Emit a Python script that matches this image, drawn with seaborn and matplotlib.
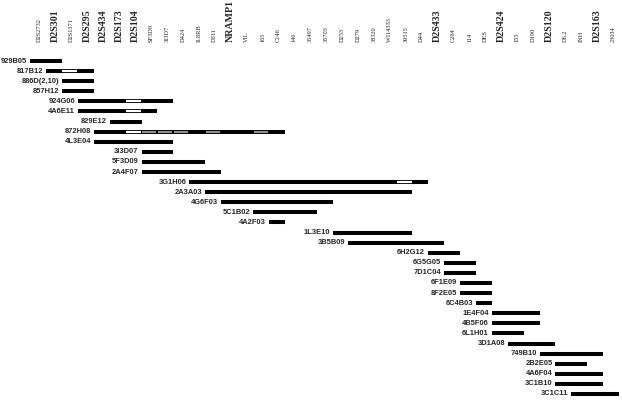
# physical map of clones across chr 2 markers
import pandas as pd
import seaborn as sns
import matplotlib.pyplot as plt

# markers along the top (left to right)
markers = ["D2S2732", "D2S301", "D2S1371", "D2S295", "D2S434", "D2S173", "D2S104",
           "SF3D9", "3I3D7", "D424", "IL8RB", "D311", "NRAMP1", "VIL", "165", "C146",
           "146", "35497", "35703", "D253", "D279", "38320", "WI14333", "39515", "D44",
           "D2S433", "C264", "114", "DES", "D2S424", "155", "D190", "D2S120", "D6.2",
           "INH", "D2S163", "23034"]
big_markers = ["D2S301", "D2S295", "D2S434", "D2S173", "D2S104", "NRAMP1",
               "D2S433", "D2S424", "D2S120", "D2S163"]

# clones (rows), first and last marker index covered
clones = ["929B05", "817B12", "886D(2,10)", "857H12", "924G06", "4A6E11", "829E12",
          "872H08", "4L3E04", "3I3D07", "5F3D09", "2A4F07", "3G1H06", "2A3A03",
          "4G6F03", "5C1B02", "4A2F03", "1L3E10", "3B5B09", "6H2G12", "6G5G05",
          "7D1C04", "6F1E09", "8F2E05", "6C4B03", "1E4F04", "4B5F06", "6L1H01",
          "3D1A08", "749B10", "2B2E05", "4A6F04", "3C1B10", "3C1C11"]
starts = [0, 1, 2, 2, 3, 3, 5, 4, 4, 7, 7, 7, 10, 11, 12, 14, 15, 19, 20, 25, 26,
          26, 27, 27, 28, 29, 29, 29, 30, 32, 33, 33, 33, 34]
ends = [1, 3, 3, 3, 8, 7, 6, 15, 8, 8, 10, 11, 24, 23, 18, 17, 15, 23, 25, 26, 27,
        27, 28, 28, 28, 31, 31, 30, 32, 35, 34, 35, 35, 36]

# marker cells shown white (negative) or gray (ambiguous) on a clone
white_cells = [("817B12", 2), ("924G06", 6), ("4A6E11", 6), ("872H08", 6), ("3G1H06", 23)]
gray_cells = [("872H08", 7), ("872H08", 8), ("872H08", 9), ("872H08", 11), ("872H08", 14)]

sns.set_theme(style="white")
plt.rcParams['lines.solid_capstyle'] = 'butt'

# long tables of segments for lineplot
rows = []
for i, (c, s, e) in enumerate(zip(clones, starts, ends)):
    rows.append({"seg": i, "x": s - 0.5, "row": i})
    rows.append({"seg": i, "x": e + 0.5, "row": i})
bars = pd.DataFrame(rows)

rows = []
n = 0
for kind, cells, pad in [("white", white_cells, 0.47), ("gray", gray_cells, 0.44)]:
    for c, k in cells:
        r = clones.index(c)
        rows.append({"seg": n, "x": k - pad, "row": r, "kind": kind})
        rows.append({"seg": n, "x": k + pad, "row": r, "kind": kind})
        n += 1
marks = pd.DataFrame(rows)

fig = plt.figure(figsize=(6.22, 4.0), dpi=100)
ax = fig.add_axes([0, 0, 1, 1])

sns.lineplot(data=bars, x="x", y="row", units="seg", estimator=None, sort=False,
             color="black", linewidth=2.9, legend=False, ax=ax)
sns.lineplot(data=marks, x="x", y="row", units="seg", hue="kind", estimator=None,
             sort=False, palette={"white": "white", "gray": "#8c8c8c"},
             linewidth=1.6, legend=False, ax=ax)

# clone names to the left of each bar
for i, (c, s) in enumerate(zip(clones, starts)):
    ax.text(s - 0.5 - 0.18, i, c, ha="right", va="center", fontsize=5.4,
            fontweight="bold", family="Liberation Sans")

# marker names, vertical
for k, m in enumerate(markers):
    if m in big_markers:
        ax.text(k + 0.1, -1.88, m, rotation=90, ha="center", va="bottom", fontsize=7.2,
                fontweight="bold", family="Liberation Serif")
    else:
        ax.text(k + 0.1, -1.88, m, rotation=90, ha="center", va="bottom", fontsize=4.6,
                family="Liberation Serif")

ax.set_xlim(-2.39, 36.68)
ax.set_ylim(33.6, -6.05)
ax.set_axis_off()

fig.savefig("out.png", dpi=100)
